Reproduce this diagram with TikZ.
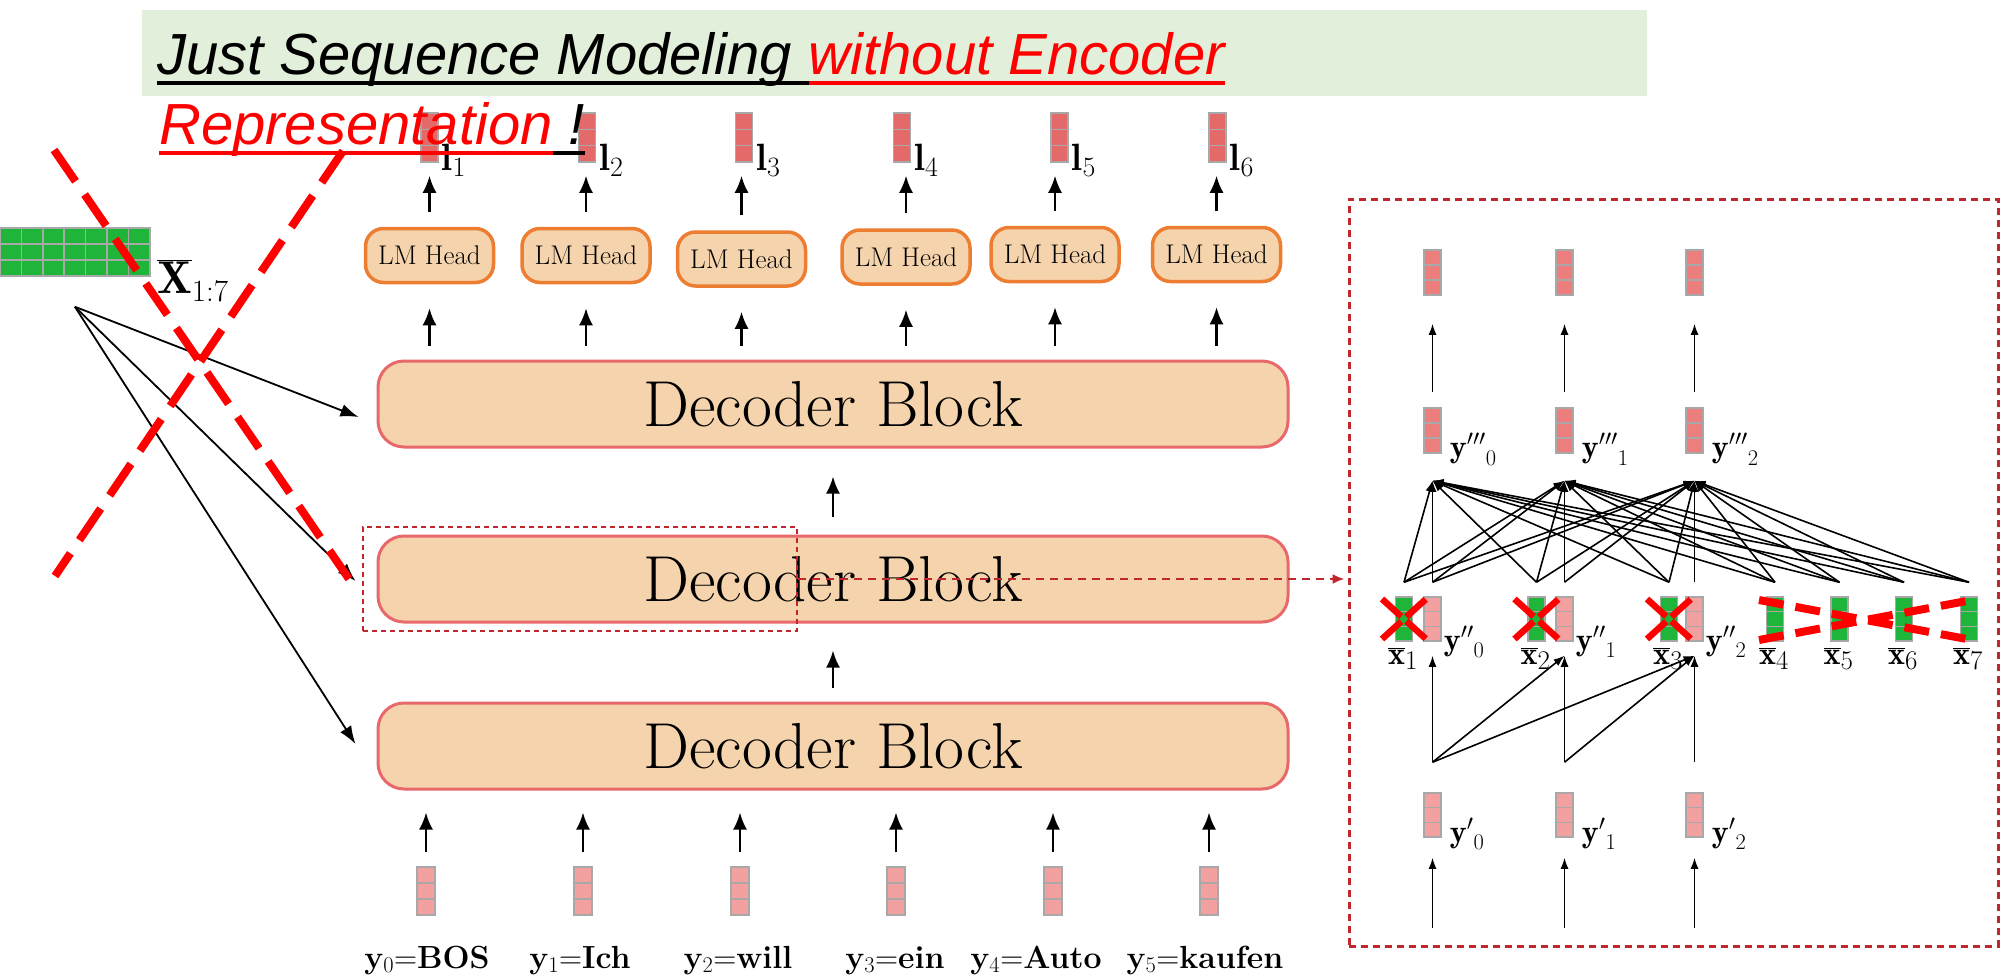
\RequirePackage{fix-cm}
\documentclass[tikz,border=0pt]{standalone}
\usepackage{fontspec}
\newfontfamily\arialfont{Liberation Sans}
\usetikzlibrary{arrows.meta,calc}
\definecolor{peach}{HTML}{F5D4AD}
\definecolor{decred}{HTML}{E8686B}
\definecolor{lmorange}{HTML}{ED7D31}
\definecolor{vred}{HTML}{E46A6A}
\definecolor{vmid}{HTML}{EC7E7E}
\definecolor{vpink}{HTML}{F2A0A0}
\definecolor{vgreen}{HTML}{1FB53A}
\definecolor{vgray}{HTML}{A8A8A8}
\definecolor{bannergreen}{HTML}{E2EFDA}
\definecolor{dred}{HTML}{C0262C}
\tikzset{
  vecbox/.style={draw=vgray, line width=1.5pt, fill=#1, inner sep=0pt,
    minimum width=17pt, minimum height=48pt,
    path picture={
      \draw[vgray, line width=1.5pt]
        ($(path picture bounding box.north west)!0.3333!(path picture bounding box.south west)$) --
        ($(path picture bounding box.north east)!0.3333!(path picture bounding box.south east)$)
        ($(path picture bounding box.north west)!0.6667!(path picture bounding box.south west)$) --
        ($(path picture bounding box.north east)!0.6667!(path picture bounding box.south east)$);
    }},
  decblock/.style={draw=decred, fill=peach, line width=3pt, rounded corners=26pt,
    minimum width=910pt, minimum height=86pt, inner sep=0pt,
    font=\fontsize{65}{70}\selectfont},
  lmhead/.style={draw=lmorange, fill=peach, line width=3.5pt, rounded corners=18pt,
    minimum width=128pt, minimum height=54pt, inner sep=0pt,
    font=\fontsize{27}{30}\selectfont},
  marr/.style={line width=2.4pt, -{Latex[length=17pt,width=14pt]}},
  fanarr/.style={line width=1.8pt, -{Latex[length=18pt,width=13pt]}},
  sarr/.style={line width=1.6pt, -{Latex[length=11pt,width=8pt]}},
  bantext/.style={anchor=base west, inner sep=0pt, font=\arialfont\itshape\fontsize{58}{60}\selectfont},
  rplabel/.style={inner sep=0pt, font=\fontsize{32}{36}\selectfont},
  redx/.style={red, line width=8pt},
}
\begin{document}
\begin{tikzpicture}[x=1pt,y=-1pt]
\useasboundingbox (0,0) rectangle (2002,979);
\fill[white] (0,0) rectangle (2002,979);
% banner background
\fill[bannergreen] (142,10) rectangle (1647,96);

% ---------- left matrix X ----------
\foreach \k in {1,...,7} {
  \node[vecbox=vgreen, minimum width=21.4pt] (xm\k) at ({10.7+21.4*(\k-1)},252) {};
}
\node[anchor=base west, inner sep=0pt, font=\fontsize{46}{50}\selectfont] (xlab) at (157,293) {$\overline{\mathbf{X}}$\raisebox{-8pt}{\fontsize{31}{33}\selectfont 1:7}};
\coordinate (fan) at ($(xm4.south)+(0,30)$);

% ---------- decoder blocks ----------
\node[decblock] (dec3) at (833,404) {Decoder Block};
\node[decblock] (dec2) at (833,579) {Decoder Block};
\node[decblock] (dec1) at (833,746) {Decoder Block};
\draw[marr, shorten <=18pt, shorten >=28pt] (dec2.north) -- (dec3.south);
\draw[marr, shorten <=14pt, shorten >=27pt] (dec1.north) -- (dec2.south);

% ---------- LM heads and outputs ----------
\foreach \i/\x/\y/\lx in {1/429.5/255.5/429.5, 2/586/255.5/587, 3/741.5/259/744, 4/906/257/902, 5/1055/254.5/1059.5, 6/1216.5/254.5/1217.5} {
  \node[lmhead] (lm\i) at (\x,\y) {LM Head};
  \node[vecbox=vred, minimum height=49pt] (l\i) at (\lx,137.5) {};
  \node[anchor=base west, inner sep=0pt, font=\fontsize{38}{42}\selectfont] (ll\i) at ($(l\i.east)+(3,32.5)$) {$\mathbf{l}$\raisebox{-6pt}{\fontsize{28}{30}\selectfont\i}};
  \draw[marr, shorten <=15pt, shorten >=13pt] (lm\i.north) -- (lm\i.north |- l\i.south);
  \draw[marr, shorten <=14pt, shorten >=24pt] (lm\i.south |- dec3.north) -- (lm\i.south);
}

% ---------- inputs ----------
\foreach \i/\x/\lx/\txt in {1/426/427/{\textbf{y}\textsubscript{0}=\textbf{BOS}},
                            2/583/580/{\textbf{y}\textsubscript{1}=\textbf{Ich}},
                            3/740/738/{\textbf{y}\textsubscript{2}=\textbf{will}},
                            4/896/895/{\textbf{y}\textsubscript{3}=\textbf{ein}},
                            5/1053/1036/{\textbf{y}\textsubscript{4}=\textbf{Auto}},
                            6/1209/1205/{\textbf{y}\textsubscript{5}=\textbf{kaufen}}} {
  \node[vecbox=vpink, minimum width=18pt] (in\i) at (\x,891) {};
  \node[anchor=base, inner sep=0pt, font=\fontsize{32}{36}\selectfont] (inl\i) at (\lx,968) {\txt};
  \draw[marr, shorten <=14pt, shorten >=22pt] (in\i.north) -- (in\i.north |- dec1.south);
}

% ---------- fan arrows from X ----------
\draw[fanarr] (fan) -- ($(dec3.west)+(-18,13)$);
\draw[fanarr] (fan) -- ($(dec2.west)+(-21,2)$);
\draw[fanarr] (fan) -- ($(dec1.west)+(-21,-2)$);

% ---------- zoom box and panel ----------
\node[draw=dred, dash pattern=on 5pt off 4pt, line width=2.5pt, minimum width=434pt, minimum height=104pt, inner sep=0pt] (zbox) at (580,579) {};
\node[draw=dred, dash pattern=on 7pt off 5pt, line width=3pt, minimum width=649pt, minimum height=747pt, inner sep=0pt] (panel) at (1673.5,572.5) {};
\draw[dred, line width=2.2pt, dash pattern=on 8pt off 6pt, -{Latex[length=12pt,width=10pt]}, shorten >=3pt] (zbox.east) -- (panel.west |- zbox.east);

% ---------- right panel ----------
\foreach \i/\x in {1/1404,2/1536.5,3/1669,4/1775,5/1839.5,6/1904,7/1969} {
  \node[vecbox=vgreen, minimum height=44pt] (xb\i) at (\x,619) {};
  \node[rplabel, anchor=north west] (xbl\i) at ($(xb\i.south)+(-16,6)$) {$\overline{\mathbf{x}}$\raisebox{-5pt}{\fontsize{27}{30}\selectfont\i}};
}
\foreach \j/\x in {0/1432.5,1/1564.5,2/1694.5} {
  \node[vecbox=vpink, minimum height=44pt] (ydp\j) at (\x,619) {};
  \node[rplabel, anchor=base west] (ydpl\j) at ($(ydp\j.east)+(2,31)$) {${\mathbf{y}''}_{\j}$};
  \node[vecbox=vmid, minimum height=45pt] (ytp\j) at (\x,430.5) {};
  \node[rplabel, anchor=base west] (ytpl\j) at ($(ytp\j.east)+(8,27)$) {${\mathbf{y}'''}_{\j}$};
  \node[vecbox=vmid, minimum height=45pt] (out\j) at (\x,272.5) {};
  \node[vecbox=vpink, minimum height=44pt] (yp\j) at (\x,815) {};
  \node[rplabel, anchor=base west] (ypl\j) at ($(yp\j.east)+(8,27)$) {${\mathbf{y}'}_{\j}$};
  \coordinate (tip\j) at ($(ytp\j.south)+(0,27)$);
  \coordinate (sy\j) at ($(ydp\j.north)+(0,-14)$);
  \coordinate (ms\j) at ($(yp\j.north)+(0,-30)$);
  \coordinate (mt\j) at ($(ydp\j.south)+(0,14)$);
  \coordinate (bs\j) at ($(yp\j.south)+(0,90)$);
  \draw[sarr] ($(ytp\j.north)+(0,-15)$) -- ($(out\j.south)+(0,28)$);
  \draw[sarr] (bs\j) -- ($(yp\j.south)+(0,20)$);
}
\foreach \i in {1,...,7} { \coordinate (sx\i) at ($(xb\i.north)+(0,-14)$); }
\foreach \j in {0,1,2} {
  \foreach \i in {1,...,7} { \draw[sarr] (sx\i) -- (tip\j); }
  \foreach \k in {0,...,\j} { \draw[sarr] (sy\k) -- (tip\j); }
  \foreach \k in {\j,...,2} { \draw[sarr] (ms\j) -- (mt\k); }
}
% red crosses on x1..x3
\foreach \i in {1,2,3} {
  \draw[red, line width=6.5pt, dash pattern=on 26pt off 7pt] ($(xb\i.center)+(-22,-20)$) -- ($(xb\i.center)+(22,20)$);
  \draw[red, line width=6.5pt, dash pattern=on 26pt off 7pt] ($(xb\i.center)+(-22,20)$) -- ($(xb\i.center)+(22,-20)$);
}
% flat cross on x4..x7
\draw[redx, dash pattern=on 25pt off 12pt] ($(xb4.center)+(-16,-19)$) -- ($(xb7.center)+(3,21)$);
\draw[redx, dash pattern=on 25pt off 12pt] ($(xb4.center)+(-16,21)$) -- ($(xb7.center)+(3,-19)$);

% ---------- banner text ----------
\node[bantext] (t1) at (157,75) {Just Sequence Modeling};
\node[bantext, text=red] (t2) at ($(t1.base east)+(16,0)$) {without Encoder};
\draw[line width=4.5pt] ($(t1.base west)+(0,8)$) -- ($(t2.base west)+(0,8)$);
\draw[red, line width=4.5pt] ($(t2.base west)+(0,8)$) -- ($(t2.base east)+(0,8)$);
\node[bantext, text=red] (t3) at (159,145) {Representation};
\node[bantext] (t4) at ($(t3.base east)+(16,0)$) {!};
\draw[red, line width=4.5pt] ($(t3.base west)+(0,8)$) -- ($(t3.base east)+(0,8)$);
\draw[line width=4.5pt] ($(t3.base east)+(0,8)$) -- ($(t4.base east)+(0,8)$);

% ---------- big red X ----------
\draw[redx, dash pattern=on 38pt off 16pt] (54,150) -- (349,579);
\draw[redx, dash pattern=on 38pt off 16pt] (343,151) -- (55,576);
\end{tikzpicture}
\end{document}
